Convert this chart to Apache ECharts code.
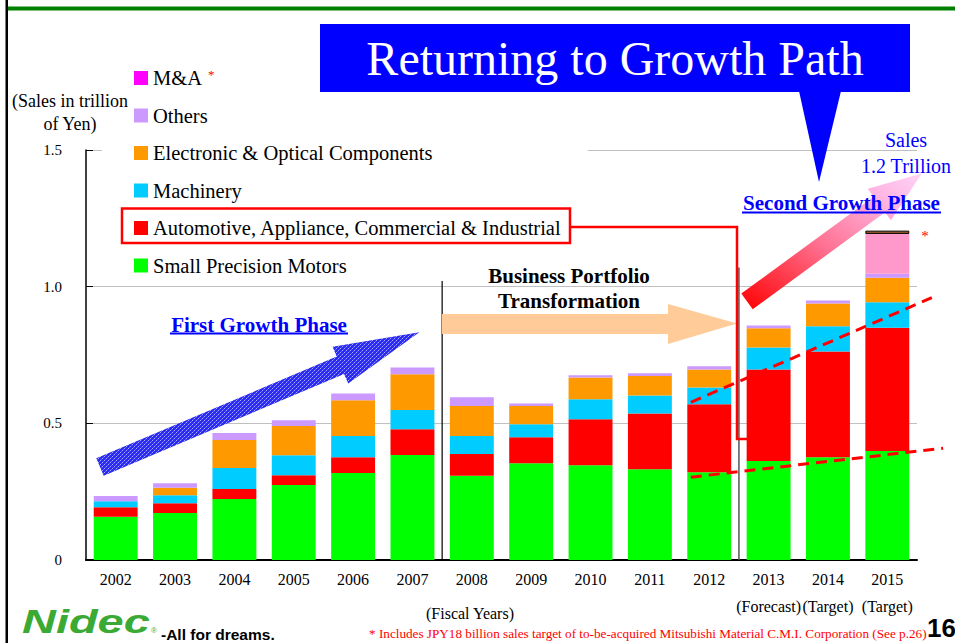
<!DOCTYPE html>
<html><head><meta charset="utf-8">
<script src="https://cdn.jsdelivr.net/npm/echarts@6/dist/echarts.min.js"></script>
<style>html,body{margin:0;padding:0;background:#fff}#c{width:955px;height:643px}</style>
</head><body><div id="c"></div>
<script>
// ---- data ----
const years = ['2002','2003','2004','2005','2006','2007','2008','2009','2010','2011','2012','2013','2014','2015'];
const subLabels = ['','','','','','','','','','','','(Forecast)','(Target)','(Target)'];
const smallPrecisionMotors = [0.158,0.172,0.223,0.274,0.318,0.384,0.308,0.354,0.347,0.332,0.321,0.362,0.376,0.399];
const automotive = [0.035,0.036,0.037,0.036,0.058,0.094,0.080,0.095,0.168,0.204,0.249,0.335,0.387,0.451];
const machinery = [0.022,0.029,0.077,0.073,0.078,0.071,0.066,0.048,0.073,0.066,0.061,0.080,0.092,0.093];
const electronic = [0,0.027,0.102,0.107,0.130,0.131,0.109,0.066,0.080,0.071,0.066,0.071,0.083,0.090];
const others = [0.019,0.017,0.026,0.021,0.025,0.024,0.032,0.010,0.008,0.010,0.012,0.010,0.011,0.014];
const mAndA = [null,null,null,null,null,null,null,null,null,null,null,null,null,0.146];
const mAndACap = [null,null,null,null,null,null,null,null,null,null,null,null,null,0.012];
const yMin = 0, yMax = 1.5, yStep = 0.5;
// annotation lines in (category index, value) space
const separator1 = [[5.5,0],[5.5,1.07]];
const separator2 = [[10.5,0],[10.5,1.07]];
const trendUpper = [[9.69,0.577],[13.75,0.960]];
const trendLower = [[9.69,0.303],[13.94,0.409]];

const SERIF = '"Liberation Serif","Times New Roman",serif';
const SANS = '"Liberation Sans",Arial,sans-serif';

// hatch pattern for the blue arrow
const pc = document.createElement('canvas'); pc.width = 4; pc.height = 4;
const px = pc.getContext('2d');
px.fillStyle = '#2a2af0'; px.fillRect(0,0,4,4);
px.fillStyle = '#a8aaff'; px.fillRect(0,0,1,1); px.fillRect(2,2,1,1);
px.fillStyle = '#6466f8'; px.fillRect(1,3,1,1); px.fillRect(3,1,1,1);
const hatchURL = pc.toDataURL();

function txt(x, y, text, font, fill, align, z) {
  return {type:'text', x:x, y:y, z: z || 100, silent:true,
    style:{text:text, font:font, fill:fill, align:align||'center', verticalAlign:'middle',
      textAlign:align||'center', textVerticalAlign:'middle'}};
}

// overlay grid: same scale as the category axis, extended to the right edge
const catLeft = 86, catRight = 38, W = 955;
const catStep = (W - catLeft - catRight) / years.length;
const overlayMax = years.length - 0.5 + catRight / catStep;

const chart = echarts.init(document.getElementById('c'), null, {renderer:'svg'});
const barBase = {type:'bar', stack:'total', barCategoryGap:'26%', xAxisIndex:0, yAxisIndex:0, silent:true};
const lineBase = {type:'line', xAxisIndex:1, yAxisIndex:1, symbol:'none', silent:true};
chart.setOption({
  animation:false,
  textStyle:{fontFamily:SERIF},
  grid:[{left:catLeft, right:catRight, top:150, bottom:83},
        {left:catLeft, right:0, top:150, bottom:83}],
  legend:{
    orient:'vertical', left:102, top:62.5, padding:[5,26,5,32],
    backgroundColor:'#fff', selectedMode:false, icon:'rect',
    itemWidth:14, itemHeight:14, itemGap:16.5,
    textStyle:{fontSize:20.5, lineHeight:20, color:'#000', fontFamily:SERIF,
      rich:{ast:{color:'#ff0000', fontSize:13, lineHeight:13, verticalAlign:'top', padding:[0,0,0,6], fontFamily:SERIF}}},
    formatter: function(n){ return n === 'M&A' ? 'M&A{ast|*}' : n; },
    data:[{name:'M&A', itemStyle:{color:'#ff00ff'}}, 'Others', 'Electronic & Optical Components', 'Machinery',
      'Automotive, Appliance, Commercial & Industrial', 'Small Precision Motors']
  },
  xAxis:[{
    type:'category', data:years, gridIndex:0,
    axisLine:{lineStyle:{color:'#000', width:2}},
    axisTick:{inside:true, length:5, lineStyle:{color:'#000'}},
    axisLabel:{interval:0, color:'#000', fontSize:16, lineHeight:27, margin:6, fontFamily:SERIF,
      formatter:function(v, i){ return subLabels[i] ? v + '\n' + subLabels[i] : v; }}
  },{
    type:'value', gridIndex:1, min:-0.5, max:overlayMax, show:false
  }],
  yAxis:[{
    type:'value', gridIndex:0, min:yMin, max:yMax, interval:yStep,
    axisLine:{show:true, onZero:false, lineStyle:{color:'#000', width:1.5}},
    axisTick:{show:true, inside:true, length:7, lineStyle:{color:'#000'}},
    splitLine:{lineStyle:{color:'#c0c0c0', width:1}},
    axisLabel:{color:'#000', fontSize:15, margin:24, fontFamily:SERIF,
      formatter:function(v){ return v === 0 ? '0' : v.toFixed(1); }}
  },{
    type:'value', gridIndex:1, min:yMin, max:yMax, show:false
  }],
  series:[
    Object.assign({name:'Small Precision Motors', data:smallPrecisionMotors, itemStyle:{color:'#00ff00'}}, barBase),
    Object.assign({name:'Automotive, Appliance, Commercial & Industrial', data:automotive, itemStyle:{color:'#ff0000'}}, barBase),
    Object.assign({name:'Machinery', data:machinery, itemStyle:{color:'#00ccff'}}, barBase),
    Object.assign({name:'Electronic & Optical Components', data:electronic, itemStyle:{color:'#ff9900'}}, barBase),
    Object.assign({name:'Others', data:others, itemStyle:{color:'#cc99ff'}}, barBase),
    Object.assign({name:'M&A', data:mAndA, itemStyle:{color:'#ff99cc'}}, barBase),
    Object.assign({name:'M&A target', data:mAndACap, itemStyle:{color:'#9c5a2c', borderColor:'#000', borderWidth:1}}, barBase),
    Object.assign({data:separator1, z:3, lineStyle:{color:'#000', width:1.2}}, lineBase),
    Object.assign({data:separator2, z:3, lineStyle:{color:'#555', width:1.5}}, lineBase),
    Object.assign({data:trendUpper, z:4, lineStyle:{color:'#ff0000', width:3, type:[11,7]}}, lineBase),
    Object.assign({data:trendLower, z:4, lineStyle:{color:'#ff0000', width:3, type:[11,7]}}, lineBase)
  ],
  graphic:[
    // page frame
    {type:'rect', z:100, silent:true, shape:{x:5.5, y:0, width:2.5, height:643}, style:{fill:'#000'}},
    {type:'rect', z:100, silent:true, shape:{x:8, y:6.5, width:947, height:4}, style:{fill:'#008000'}},
    // title callout
    {type:'rect', z:100, silent:true, shape:{x:320, y:24, width:590, height:68}, style:{fill:'#0000ff'}},
    {type:'polygon', z:100, silent:true, shape:{points:[[799,91],[841,91],[819,182]]}, style:{fill:'#0000ff'}},
    txt(615, 58.5, 'Returning to Growth Path', '48px ' + SERIF, '#ffffff'),
    // y axis name
    txt(70, 101, '(Sales in trillion', '18px ' + SERIF, '#000'),
    txt(70, 124, 'of Yen)', '18px ' + SERIF, '#000'),
    // legend highlight box and connector
    {type:'rect', z:100, silent:true, shape:{x:122, y:208.5, width:448, height:34.5},
      style:{fill:'none', stroke:'#ff0000', lineWidth:2.5}},
    {type:'polyline', z:100, silent:true, shape:{points:[[570,227],[737,227],[737,439],[748,439]]},
      style:{fill:'none', stroke:'#ff0000', lineWidth:2.5}},
    // blue hatched arrow
    {type:'polygon', z:10, silent:true,
      shape:{points:[[96.3,458.3],[336.7,356.5],[332.6,346.8],[419.3,332.3],[348.2,383.6],[344.1,373.9],[103.7,475.8]]},
      style:{fill:{image:hatchURL, repeat:'repeat', imageWidth:4, imageHeight:4}}},
    // peach arrow
    {type:'polygon', z:10, silent:true,
      shape:{points:[[442,314],[668,314],[668,304],[737,323.5],[668,344],[668,334],[442,334]]},
      style:{fill:'#ffcc99'}},
    // red-pink arrow
    {type:'polygon', z:10, silent:true,
      shape:{points:[[741.3,293.6],[873.6,196.7],[867.7,188.7],[921.7,173.5],[890.9,220.3],[885.0,212.3],[752.7,309.2]]},
      style:{fill:new echarts.graphic.LinearGradient(0,1,1,0,[
        {offset:0, color:'#ff0000'},{offset:0.45, color:'#ff6f8f'},{offset:0.8, color:'#ffb5e2'},{offset:1, color:'#ffd4f6'}])}},
    // phase labels
    txt(259, 324.5, 'First Growth Phase', 'bold 21px ' + SERIF, '#0000ff'),
    {type:'line', z:100, silent:true, shape:{x1:170, y1:333.5, x2:348, y2:333.5}, style:{stroke:'#0000ff', lineWidth:1.8}},
    txt(569, 276, 'Business Portfolio', 'bold 21px ' + SERIF, '#000'),
    txt(569, 301, 'Transformation', 'bold 21px ' + SERIF, '#000'),
    txt(841.5, 203, 'Second Growth Phase', 'bold 21px ' + SERIF, '#0000ff'),
    {type:'line', z:100, silent:true, shape:{x1:742, y1:212.5, x2:941, y2:212.5}, style:{stroke:'#0000ff', lineWidth:1.8}},
    txt(906, 140, 'Sales', '20px ' + SERIF, '#0000ff'),
    txt(906, 166, '1.2 Trillion', '20px ' + SERIF, '#0000ff'),
    txt(925, 236, '*', '15px ' + SERIF, '#ff0000'),
    // bottom texts
    txt(470, 613, '(Fiscal Years)', '16px ' + SERIF, '#000'),
    txt(369, 633, '* Includes JPY18 billion sales target of to-be-acquired Mitsubishi Material C.M.I. Corporation (See p.26)', '13.2px ' + SERIF, '#ff0000', 'left'),
    txt(956, 628, '16', 'bold 26px ' + SANS, '#000', 'right'),
    // logo
    {type:'text', z:100, silent:true, x:22, y:621, scaleX:1.38,
      style:{text:'Nidec', font:'italic 900 34px ' + SANS, fill:'#3aaa35', align:'left', verticalAlign:'middle', textAlign:'left', textVerticalAlign:'middle'}},
    txt(151, 630, '®', '8px ' + SANS, '#3aaa35', 'left'),
    txt(161, 634, '-All for dreams.', 'bold 15.5px ' + SANS, '#000', 'left')
  ]
});
</script>
</body></html>
